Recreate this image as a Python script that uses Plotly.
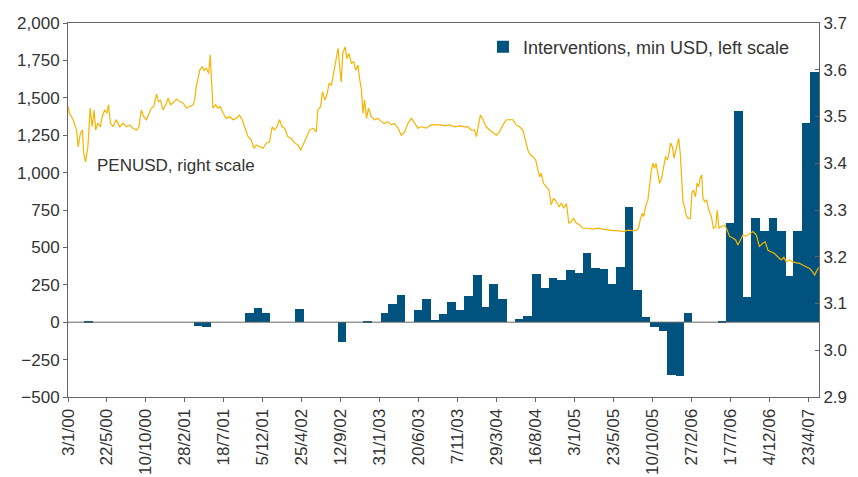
import numpy as np
import pandas as pd
import plotly.graph_objects as go

# ---------------- data ----------------
tick_labels = ["3/1/00", "22/5/00", "10/10/00", "28/2/01", "18/7/01", "5/12/01",
               "25/4/02", "12/9/02", "31/1/03", "20/6/03", "7/11/03", "29/3/04",
               "16/8/04", "3/1/05", "23/5/05", "10/10/05", "27/2/06", "17/7/06",
               "4/12/06", "23/4/07"]
tick_days = list(range(0, 2000, 100))   # trading-day number of each labelled date
n_days = 1927                          # trading days shown (3/1/00 .. end May 2007)

months = pd.period_range("2000-01", "2007-05", freq="M")
interventions = [0, 0, 10, 0, 0, 0, 0, 0, 0, 0, 0, 0,            # 2000
                 0, 0, 0, -25, -35, 0, 0, 0, 0, 60, 95, 60,       # 2001
                 0, 0, 0, 90, 0, 0, 0, 0, -130, 0, 0, 10,         # 2002
                 0, 62, 120, 185, 0, 83, 157, 18, 56, 138, 82, 178,  # 2003
                 316, 100, 256, 156, 0, 22, 40, 322, 227, 296, 283, 349,  # 2004
                 331, 465, 365, 356, 256, 369, 770, 218, 38, -35, -57, -351,  # 2005
                 -360, 62, 0, 0, 0, 5, 663, 1412, 171, 698, 611, 698,  # 2006
                 611, 311, 611, 1333, 1673]                       # 2007

pen_day = [0, 4, 13, 22, 26, 32, 37, 40, 45, 51, 57, 62, 67, 71, 77, 83, 88, 94, 100, 104,
           109, 115, 124, 133, 141, 150, 158, 167, 176, 182, 188, 194, 201, 208, 214, 220,
           227, 232, 237, 244, 251, 257, 263, 269, 278, 287, 295, 304, 312, 321, 325, 329,
           334, 338, 344, 349, 355, 361, 365, 369, 372, 379, 385, 391, 398, 406, 415, 423,
           432, 440, 447, 453, 462, 470, 477, 483, 492, 500, 509, 517, 524, 530, 536, 543,
           549, 556, 564, 573, 582, 590, 597, 603, 612, 620, 629, 637, 641, 648, 653, 659,
           664, 670, 676, 680, 687, 693, 697, 701, 705, 711, 716, 721, 727, 733, 738, 744,
           748, 753, 757, 761, 766, 771, 778, 787, 795, 804, 812, 821, 830, 838, 847, 855,
           864, 872, 881, 889, 898, 907, 919, 932, 945, 958, 966, 979, 992, 1005, 1018, 1026,
           1035, 1043, 1048, 1052, 1058, 1065, 1073, 1082, 1090, 1099, 1107, 1116, 1125, 1133,
           1142, 1150, 1159, 1167, 1174, 1180, 1186, 1193, 1200, 1206, 1210, 1214, 1220, 1227,
           1234, 1240, 1246, 1253, 1260, 1266, 1272, 1279, 1285, 1291, 1297, 1304, 1313, 1321,
           1334, 1347, 1360, 1372, 1385, 1398, 1411, 1424, 1437, 1449, 1460, 1465, 1468, 1474,
           1477, 1482, 1488, 1492, 1497, 1501, 1505, 1509, 1514, 1518, 1524, 1529, 1533, 1538,
           1542, 1546, 1551, 1555, 1559, 1563, 1567, 1571, 1574, 1578, 1582, 1586, 1591, 1597,
           1601, 1605, 1610, 1614, 1618, 1622, 1626, 1629, 1633, 1639, 1644, 1651, 1656, 1662,
           1666, 1670, 1676, 1685, 1691, 1698, 1706, 1713, 1719, 1725, 1732, 1740, 1749, 1757,
           1766, 1774, 1783, 1789, 1796, 1804, 1813, 1821, 1830, 1837, 1843, 1851, 1860, 1869,
           1877, 1886, 1894, 1903, 1910, 1916, 1920, 1926]
pen_rate = [3.522, 3.507, 3.493, 3.471, 3.435, 3.465, 3.471, 3.422, 3.403, 3.435, 3.518, 3.478,
            3.514, 3.471, 3.486, 3.478, 3.500, 3.514, 3.507, 3.525, 3.486, 3.478, 3.493, 3.478,
            3.486, 3.478, 3.482, 3.475, 3.471, 3.478, 3.514, 3.500, 3.493, 3.507, 3.518, 3.521,
            3.548, 3.532, 3.535, 3.514, 3.525, 3.539, 3.525, 3.529, 3.537, 3.532, 3.529, 3.518,
            3.521, 3.525, 3.535, 3.564, 3.582, 3.599, 3.607, 3.599, 3.603, 3.592, 3.632, 3.564,
            3.518, 3.525, 3.518, 3.521, 3.507, 3.496, 3.500, 3.493, 3.496, 3.503, 3.493, 3.478,
            3.457, 3.450, 3.432, 3.439, 3.435, 3.432, 3.443, 3.446, 3.478, 3.471, 3.478, 3.493,
            3.478, 3.475, 3.457, 3.453, 3.443, 3.439, 3.428, 3.439, 3.457, 3.471, 3.475, 3.467,
            3.514, 3.521, 3.553, 3.535, 3.546, 3.571, 3.567, 3.585, 3.614, 3.646, 3.607, 3.574,
            3.635, 3.649, 3.624, 3.635, 3.614, 3.617, 3.599, 3.610, 3.582, 3.557, 3.507, 3.535,
            3.496, 3.518, 3.500, 3.493, 3.496, 3.489, 3.485, 3.489, 3.482, 3.485, 3.475, 3.460,
            3.467, 3.485, 3.496, 3.485, 3.475, 3.478, 3.475, 3.482, 3.482, 3.482, 3.480, 3.482,
            3.478, 3.480, 3.478, 3.478, 3.471, 3.471, 3.457, 3.478, 3.503, 3.493, 3.478, 3.471,
            3.465, 3.460, 3.467, 3.482, 3.493, 3.493, 3.493, 3.482, 3.478, 3.471, 3.450, 3.428,
            3.418, 3.414, 3.407, 3.382, 3.371, 3.379, 3.357, 3.350, 3.343, 3.311, 3.325, 3.318,
            3.307, 3.314, 3.304, 3.314, 3.272, 3.275, 3.282, 3.272, 3.268, 3.261, 3.261, 3.259,
            3.261, 3.259, 3.257, 3.256, 3.256, 3.254, 3.257, 3.256, 3.257, 3.264, 3.279, 3.293,
            3.286, 3.307, 3.321, 3.350, 3.386, 3.400, 3.389, 3.400, 3.371, 3.357, 3.371, 3.393,
            3.414, 3.407, 3.421, 3.443, 3.435, 3.411, 3.425, 3.443, 3.453, 3.421, 3.364, 3.318,
            3.307, 3.289, 3.282, 3.282, 3.336, 3.343, 3.328, 3.357, 3.350, 3.368, 3.375, 3.328,
            3.318, 3.321, 3.300, 3.286, 3.261, 3.264, 3.300, 3.261, 3.264, 3.268, 3.257, 3.243,
            3.240, 3.236, 3.225, 3.236, 3.247, 3.244, 3.250, 3.254, 3.247, 3.222, 3.229, 3.232,
            3.214, 3.211, 3.207, 3.200, 3.193, 3.199, 3.189, 3.193, 3.189, 3.187, 3.186, 3.182,
            3.179, 3.175, 3.168, 3.161, 3.168, 3.177]

# ------------- month -> trading-day positions -------------
first_day = np.datetime64("2000-01-03")
month_starts = [np.datetime64(str(p.start_time.date())) for p in months]
month_starts.append(np.datetime64("2007-06-01"))
raw = np.array([np.busday_count(first_day, d) for d in month_starts], dtype=float)
scale = n_days / raw[-1]
starts = raw * scale
bar_x = (starts[:-1] + starts[1:]) / 2
bar_w = starts[1:] - starts[:-1]

# ---------------- figure ----------------
FONT = "Liberation Sans"
TXT = "#333333"
AX = "#666666"
BAR = "#00527F"
LINE = "#F5B400"

fig = go.Figure()
fig.add_trace(go.Bar(
    x=bar_x, y=interventions, width=bar_w,
    marker=dict(color=BAR, line=dict(width=0)),
    name="Interventions, min USD, left scale",
    yaxis="y", showlegend=True,
))
fig.add_trace(go.Scatter(
    x=pen_day, y=pen_rate, mode="lines",
    line=dict(color=LINE, width=1.2),
    name="PENUSD, right scale",
    yaxis="y2", showlegend=False,
))

fig.update_layout(
    width=858, height=477,
    margin=dict(l=60, r=47, t=15, b=88),
    paper_bgcolor="white", plot_bgcolor="white",
    font=dict(family=FONT, size=17, color=TXT),
    bargap=0,
    xaxis=dict(
        range=[0, n_days], tickmode="array", tickvals=tick_days, ticktext=tick_labels,
        tickangle=-90, ticks="outside", ticklen=4, tickcolor=AX,
        showline=True, linecolor=AX, linewidth=1, mirror=True,
        showgrid=False, zeroline=False, automargin=False,
        tickfont=dict(family=FONT, size=17, color=TXT),
    ),
    yaxis=dict(
        range=[-500, 2000], dtick=250, tick0=0, tickformat=",",
        ticks="outside", ticklen=4, tickcolor=AX,
        showline=True, linecolor=AX, linewidth=1,
        showgrid=False, zeroline=False, automargin=False,
        tickfont=dict(family=FONT, size=17, color=TXT),
    ),
    yaxis2=dict(
        range=[2.9, 3.7], dtick=0.1, tick0=2.9, tickformat=".1f",
        overlaying="y", side="right",
        ticks="inside", ticklen=4, tickcolor=AX,
        showline=True, linecolor=AX, linewidth=1,
        showgrid=False, zeroline=False, automargin=False,
        tickfont=dict(family=FONT, size=17, color=TXT),
    ),
    legend=dict(
        x=0.968, xanchor="right", y=0.985, yanchor="top",
        bgcolor="rgba(0,0,0,0)", font=dict(family=FONT, size=18, color=TXT),
        itemwidth=30,
    ),
    shapes=[dict(
        type="line", xref="paper", x0=0, x1=1, yref="y", y0=0, y1=0,
        line=dict(color=AX, width=1), layer="above",
    )],
    annotations=[dict(
        text="PENUSD, right scale", xref="paper", yref="paper",
        x=0.036, y=0.62, xanchor="left", yanchor="middle", showarrow=False,
        font=dict(family=FONT, size=17, color=TXT),
    )],
)

fig.write_html("out.html")
